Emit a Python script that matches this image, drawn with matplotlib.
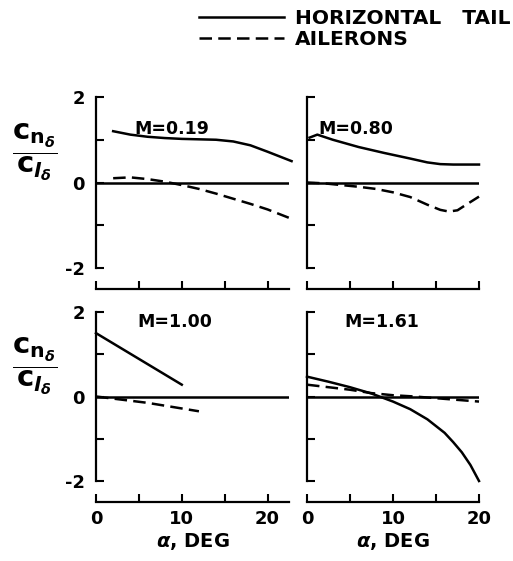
import matplotlib.pyplot as plt
import numpy as np

# panel titles
mach_labels = ['M=0.19', 'M=0.80', 'M=1.00', 'M=1.61']

# M = 0.19
a_tail_019 = [2, 4, 6, 8, 10, 12, 14, 16, 18, 20, 22.8]
cn_tail_019 = [1.2, 1.12, 1.07, 1.04, 1.02, 1.01, 1.0, 0.96, 0.87, 0.72, 0.5]
a_ail_019 = [2, 4, 6, 8, 10, 12, 14, 16, 18, 20, 22.8]
cn_ail_019 = [0.1, 0.12, 0.08, 0.02, -0.06, -0.15, -0.26, -0.38, -0.5, -0.63, -0.85]

# M = 0.80
a_tail_080 = [0.3, 1.2, 3, 6, 9, 12, 14, 15.5, 17, 20]
cn_tail_080 = [1.05, 1.12, 1.0, 0.83, 0.69, 0.56, 0.47, 0.43, 0.42, 0.42]
a_ail_080 = [0, 2, 4, 6, 8, 10, 12, 14, 15.5, 16.5, 17.5, 18.5, 20]
cn_ail_080 = [0.0, -0.02, -0.06, -0.1, -0.15, -0.23, -0.34, -0.52, -0.64, -0.68, -0.65, -0.52, -0.33]

# M = 1.00
a_tail_100 = [0, 5, 10]
cn_tail_100 = [1.5, 0.89, 0.28]
a_ail_100 = [0, 6, 12]
cn_ail_100 = [0.0, -0.15, -0.35]

# M = 1.61
a_tail_161 = [0, 2.5, 5, 7.5, 10, 12, 14, 16, 17, 18, 19, 20]
cn_tail_161 = [0.47, 0.35, 0.22, 0.07, -0.12, -0.3, -0.54, -0.86, -1.08, -1.32, -1.62, -2.0]
a_ail_161 = [0, 2.5, 5, 7.5, 10, 12.5, 15, 17.5, 20]
cn_ail_161 = [0.28, 0.22, 0.16, 0.08, 0.03, 0.0, -0.04, -0.08, -0.12]

tail = [(a_tail_019, cn_tail_019), (a_tail_080, cn_tail_080),
        (a_tail_100, cn_tail_100), (a_tail_161, cn_tail_161)]
ail = [(a_ail_019, cn_ail_019), (a_ail_080, cn_ail_080),
       (a_ail_100, cn_ail_100), (a_ail_161, cn_ail_161)]

plt.rcParams['font.family'] = 'DejaVu Sans'
plt.rcParams['font.weight'] = 'bold'
plt.rcParams['mathtext.fontset'] = 'dejavusans'

fig = plt.figure(figsize=(5.13, 5.61), dpi=100)
W, H = 513, 561
# axes boxes in pixels: left, top, right, bottom
boxes = [(96, 97, 289, 268), (307, 97, 479, 268),
         (96, 312, 289, 481), (307, 312, 479, 481)]
xmax = [22.5, 20, 22.5, 20]
title_pos = [(4.5, 1.25), (1.3, 1.25), (4.8, 1.77), (4.4, 1.77)]

ylab = r'$\dfrac{\mathrm{c}_{\mathrm{n}_\delta}}{\mathrm{c}_{l_\delta}}$'

lw = 1.8
for i, (l, t, r, b) in enumerate(boxes):
    ax = fig.add_axes([l / W, 1 - b / H, (r - l) / W, (b - t) / H])
    ax.set_xlim(0, xmax[i])
    ax.set_ylim(-2, 2)
    ax.axhline(0, color='black', lw=lw)
    ax.plot(*tail[i], color='black', lw=lw, clip_on=False,
            label='HORIZONTAL   TAIL')
    ax.plot(*ail[i], color='black', lw=lw, dashes=(5, 2.5), clip_on=False,
            label='AILERONS')
    ax.text(*title_pos[i], mach_labels[i], fontsize=12.5, va='center')

    for s in ['top', 'right']:
        ax.spines[s].set_visible(False)
    ax.spines['left'].set_linewidth(1.6)
    ax.spines['bottom'].set_linewidth(1.6)
    ax.spines['bottom'].set_position(('outward', 15))
    ax.spines['bottom'].set_bounds(0, xmax[i])
    ax.set_xticks(np.arange(0, xmax[i] + 0.1, 5))
    ax.set_yticks([-2, -1, 0, 1, 2])
    ax.tick_params(direction='in', length=6, width=1.5, labelsize=13, pad=6)
    ax.tick_params(axis='y', pad=8)

    if i % 2 == 0:
        ax.set_yticklabels(['-2', '', '0', '', '2'])
        ax.set_ylabel(ylab, rotation=0, fontsize=21)
        ax.yaxis.set_label_coords(-0.32, 0.5)
    else:
        ax.set_yticklabels([])
    if i >= 2:
        ax.set_xticklabels(['0', '', '10', '', '20'])
        ax.set_xlabel(r'$\alpha$, DEG', fontsize=14, fontweight='bold', labelpad=2)
    else:
        ax.set_xticklabels([])
    if i == 0:
        handles, labels = ax.get_legend_handles_labels()

fig.legend(handles, labels, loc='upper left', bbox_to_anchor=(199 / W, 1 - 9 / H),
           frameon=False, fontsize=14.5, handlelength=4.2, handletextpad=0.55,
           labelspacing=0.12, borderpad=0, borderaxespad=0)

fig.savefig('out.png', dpi=100)
